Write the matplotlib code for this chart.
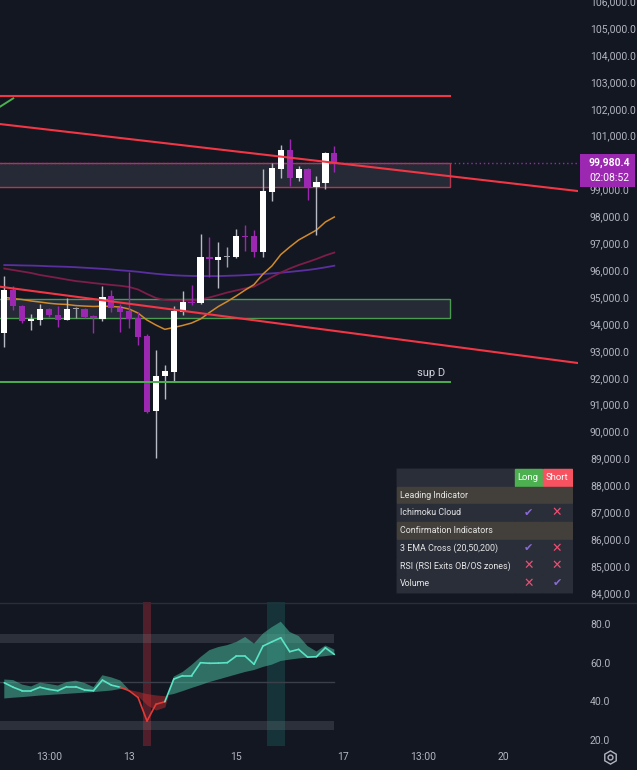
import numpy as np
import matplotlib
matplotlib.use('Agg')
from matplotlib import pyplot as plt
from matplotlib.patches import Rectangle
from matplotlib.lines import Line2D

plt.rcParams['font.family'] = ['Roboto', 'DejaVu Sans']

# 4h candles, values
opens = [93650, 95260, 94670, 94120, 94160, 94570, 94330, 94160, 94545, 94555,
         94285, 94180, 95040, 94600, 94480, 94210, 93550, 90765, 92055, 92225,
         94455, 94815, 94790, 96500, 96390, 96480, 96490, 97270, 97270, 96685,
         98915, 99760, 100465, 99415, 99760, 99100, 99250, 100365]
highs = [95790, 95410, 94700, 94370, 94740, 94600, 94680, 94975, 94640, 94600,
         94320, 95410, 95260, 94730, 95920, 94455, 93625, 93030, 92475, 94670,
         95235, 95450, 97330, 97220, 97035, 96870, 97530, 97680, 97490, 99760,
         99970, 100650, 100865, 99870, 99780, 99500, 100400, 100615]
lows = [93150, 94520, 94050, 93775, 93970, 94270, 93900, 94150, 94230, 94230,
        93650, 94110, 94455, 93710, 93840, 93220, 90700, 89005, 91200, 91855,
        94320, 94700, 94760, 95735, 95325, 96130, 96440, 96720, 96480, 96500,
        98580, 99415, 99140, 99315, 98605, 97305, 99015, 99660]
closes = [95260, 94670, 94120, 94180, 94570, 94320, 94160, 94545, 94580, 94260,
          94210, 95000, 94580, 94445, 94195, 93525, 90740, 92075, 92250, 94480,
          94805, 94780, 96500, 96400, 96500, 96525, 97260, 97245, 96685, 98930,
          99785, 100465, 99415, 99760, 99100, 99265, 100365, 99980.4]
neutral_bars = [8, 25]

ema20 = [94990, 94945, 94910, 94855, 94815, 94770, 94740, 94725, 94685, 94665,
         94650, 94660, 94650, 94630, 94555, 94405, 94145, 93960, 93800, 93870,
         93945, 94035, 94185, 94425, 94650, 94835, 95040, 95260, 95465, 95855,
         96155, 96580, 96860, 97120, 97305, 97490, 97790, 97975]
ema50 = [96060, 96005, 95950, 95895, 95820, 95765, 95710, 95650, 95595, 95560,
         95520, 95485, 95450, 95420, 95375, 95280, 95115, 94965, 94890, 94880,
         94880, 94880, 94910, 94985, 95075, 95170, 95245, 95320, 95390, 95560,
         95745, 95910, 96060, 96190, 96300, 96415, 96545, 96655]
ema200 = [96190, 96185, 96175, 96170, 96160, 96145, 96135, 96125, 96110, 96090,
          96070, 96050, 96025, 95995, 95970, 95940, 95900, 95865, 95835, 95810,
          95795, 95785, 95780, 95780, 95780, 95790, 95800, 95815, 95835, 95855,
          95880, 95905, 95935, 95970, 96005, 96050, 96105, 96165]

rsi = [49.6, 47.3, 45.5, 45.5, 47.3, 46.2, 45.5, 47.6, 47.6, 45.9,
       45.5, 51.0, 48.4, 47.3, 45.5, 42.0, 29.8, 38.5, 39.8, 51.5,
       53.3, 53.3, 60.0, 59.7, 59.8, 60.0, 63.4, 63.4, 59.2, 68.6,
       70.8, 72.9, 65.7, 66.9, 62.9, 63.1, 67.7, 64.3]
rsi_ma = [41.5, 41.9, 42.2, 42.6, 43.0, 43.3, 43.6, 43.9, 44.2, 44.5,
          44.8, 45.2, 45.6, 46.4, 46.1, 45.1, 44.0, 43.3, 42.9, 43.8,
          45.3, 46.9, 48.4, 50.0, 51.3, 52.6, 53.9, 55.2, 56.2, 57.8,
          59.0, 60.9, 61.6, 62.2, 62.6, 62.9, 63.4, 64.0]
rsi_band = [51.3, 51.0, 48.7, 47.7, 49.7, 49.0, 48.2, 50.0, 50.7, 49.5,
            47.4, 53.5, 52.4, 50.8, 46.0, 42.7, 38.1, 35.5, 37.1, 52.8,
            55.2, 58.8, 62.9, 66.5, 68.1, 69.1, 70.7, 73.3, 69.9, 75.1,
            78.4, 81.2, 75.9, 73.8, 68.6, 65.8, 68.9, 66.8]

# drawings
res_line = 102460
zone_hi = (99080, 99965)
zone_lo = (94205, 94925)
sup_d = 91855
zone_end = 50
trend_a = [(0, 101412), (60, 99106)]
trend_b = [(0, 95364), (60, 92737)]
trend_g = [(-1, 101966), (1, 102385)]

price_ticks = [84000, 85000, 86000, 87000, 88000, 89000, 90000, 91000, 92000,
               93000, 94000, 95000, 96000, 97000, 98000, 99000, 101000, 102000,
               103000, 104000, 105000, 106000]
rsi_ticks = [20, 40, 60, 80]
time_ticks = [5, 14, 26, 38, 47, 56]
time_labels = ['13:00', '13', '15', '17', '13:00', '20']

table_rows = ['Leading Indicator', 'Ichimoku Cloud', 'Confirmation Indicators',
              '3 EMA Cross (20,50,200)', 'RSI (RSI Exits OB/OS zones)', 'Volume']
long_flags = [None, True, None, True, False, False]
short_flags = [None, False, None, False, False, True]

BG = '#131722'
TXT = '#b2b5be'
W, H = 637., 770.
def fx(px): return px / W
def fy(py): return 1 - py / H

fig = plt.figure(figsize=(6.37, 7.70), dpi=100, facecolor=BG)
ax = fig.add_axes([0, fy(602), fx(578), fy(0) - fy(602)])
ax_r = fig.add_axes([0, fy(746), fx(578), fy(602) - fy(746)], sharex=ax)
for a in (ax, ax_r):
    a.set_facecolor(BG)
    for s in a.spines.values():
        s.set_visible(False)

bars = np.arange(len(opens))
x_left, x_right = -0.48, 64.32
ax.set_xlim(x_left, x_right)
ax.set_ylim(83666, 106041)
ax_r.set_ylim(16.9, 91.4)

# zones and levels
ax.add_patch(Rectangle((-1, zone_hi[0]), zone_end + 1, zone_hi[1] - zone_hi[0],
                       facecolor='#262a36', edgecolor='#b2384f', lw=1, zorder=1))
ax.add_patch(Rectangle((-1, zone_lo[0]), zone_end + 1, zone_lo[1] - zone_lo[0],
                       facecolor='#262a36', edgecolor='#4a9a50', lw=1, zorder=1))
ax.plot([-1, zone_end], [sup_d, sup_d], color='#4caf50', lw=1.4, zorder=5)
ax.text(49.4, sup_d + 130, 'sup D', color='#d1d4dc', fontsize=8,
        ha='right', va='bottom', zorder=6)
ax.plot([-1, zone_end], [res_line, res_line], color='#f23645', lw=1.5, zorder=5)

# moving averages
ax.plot(bars, ema200, color='#5a2fa0', lw=1.3, zorder=2)
ax.plot(bars, ema50, color='#7d1d48', lw=1.3, zorder=2)
ax.plot(bars, ema20, color='#d08a2c', lw=1.1, zorder=2)

# candles
o, h, l, c = map(np.array, (opens, highs, lows, closes))
up = c >= o
body_col = np.where(up, '#ffffff', '#9c27b0').astype(object)
wick_col = np.where(up, '#b8bbc4', '#9c27b0').astype(object)
for i in neutral_bars:
    body_col[i] = wick_col[i] = '#a0a3ab'
ax.vlines(bars, l, h, colors=list(wick_col), lw=1, zorder=3)
ax.bar(bars, np.maximum(np.abs(c - o), 40), bottom=np.minimum(o, c), width=0.7,
       color=list(body_col), linewidth=0, zorder=4)

# trend lines
for (x0, y0), (x1, y1) in (trend_a, trend_b):
    k = (y1 - y0) / (x1 - x0)
    xs = np.array([-2, 70])
    ax.plot(xs, y0 + k * (xs - x0), color='#f23645', lw=1.5, zorder=5)
ax.plot([p[0] for p in trend_g], [p[1] for p in trend_g], color='#4caf50', lw=1.4, zorder=5)

# last price line + label
last = closes[-1]
ax.axhline(last, color='#9c27b0', ls=(0, (1, 2)), lw=1, zorder=2)
tr = ax.get_yaxis_transform()
ax.add_patch(Rectangle((1.0035, last - 890), 0.095, 1225, transform=tr,
                       facecolor='#9c27b0', edgecolor='none', clip_on=False, zorder=10))
ax.text(1.019, last, f'{last:,.1f}', transform=tr, color='white', fontsize=7.5,
        fontweight='bold', va='center', ha='left', zorder=11)
ax.text(1.019, last - 560, '02:08:52', transform=tr, color='white', fontsize=7.5,
        va='center', ha='left', zorder=11)

# price axis
ax.yaxis.tick_right()
ax.set_yticks(price_ticks)
ax.set_yticklabels([f'{v:,.1f}' for v in price_ticks])
ax.tick_params(axis='y', length=0, pad=8.6, labelsize=7.5, labelcolor=TXT)
ax.tick_params(axis='x', bottom=False, labelbottom=False)

# RSI pane
ax_r.axvspan(15.5, 16.5, color='#f23645', alpha=0.28, lw=0, zorder=0)
ax_r.axvspan(29.5, 31.5, color='#26a69a', alpha=0.2, lw=0, zorder=0)
ax_r.fill_between([-1, bars[-1]], 70, 75, color='#787b86', alpha=0.25, lw=0, zorder=1)
ax_r.fill_between([-1, bars[-1]], 25, 30, color='#787b86', alpha=0.25, lw=0, zorder=1)
ax_r.plot([-1, bars[-1]], [50, 50], color='#3b3f4a', lw=1, zorder=1)
rb, rm, rv = np.array(rsi_band), np.array(rsi_ma), np.array(rsi)
ax_r.fill_between(bars, rb, rm, where=rb >= rm, interpolate=True,
                  color='#48b89a', alpha=0.55, lw=0, zorder=2)
ax_r.fill_between(bars, rb, rm, where=rb < rm, interpolate=True,
                  color='#d32f2f', alpha=0.45, lw=0, zorder=2)
for i in range(len(bars) - 1):
    col = '#e53935' if rv[i + 1] < rm[i + 1] else '#5ae4c6'
    ax_r.plot(bars[i:i + 2], rv[i:i + 2], color=col, lw=1.2, zorder=3,
              solid_capstyle='round')

ax_r.yaxis.tick_right()
ax_r.set_yticks(rsi_ticks)
ax_r.set_yticklabels([f'{v:.1f}' for v in rsi_ticks])
ax_r.tick_params(axis='y', length=0, pad=8.6, labelsize=7.5, labelcolor=TXT)
ax_r.set_xticks(time_ticks)
ax_r.set_xticklabels(time_labels)
ax_r.tick_params(axis='x', length=0, pad=4.5, labelsize=7.5, labelcolor=TXT)

# pane separator and settings icon
fig.add_artist(Line2D([0, 1], [fy(602.5)] * 2, transform=fig.transFigure,
                      color='#2a2e39', lw=1))
fig.add_artist(Line2D([fx(610)], [fy(757)], transform=fig.transFigure, marker='h',
                      markersize=9.5, mfc='none', mec=TXT, mew=1, ls='none'))
fig.add_artist(Line2D([fx(610)], [fy(757)], transform=fig.transFigure, marker='o',
                      markersize=3.5, mfc='none', mec=TXT, mew=1, ls='none'))

# signal table
tx = fig.add_axes([fx(396), fy(594), fx(573) - fx(396), fy(468) - fy(594)])
tx.set_xlim(396, 573)
tx.set_ylim(594, 468)
tx.axis('off')
tx.add_patch(Rectangle((396, 468), 177, 126, color='#1c1f29'))
cells = [(397, 117), (515, 26.5), (542.5, 29)]
tx.add_patch(Rectangle((397, 469), 117, 16.5, color='#2a2e39'))
tx.add_patch(Rectangle((515, 469), 26.5, 16.5, color='#4caf50'))
tx.add_patch(Rectangle((542.5, 469), 29, 16.5, color='#f7525f'))
tx.text(528.2, 477.5, 'Long', color='white', fontsize=6.8, ha='center', va='center')
tx.text(557, 477.5, 'Short', color='white', fontsize=6.8, ha='center', va='center')
row_h, pitch = 16.7, 17.67
for k, name in enumerate(table_rows):
    y0 = 486.7 + k * pitch
    section = long_flags[k] is None
    bg = '#43403c' if section else '#2a2e39'
    for cx, cw in cells:
        tx.add_patch(Rectangle((cx, y0), cw, row_h, color=bg))
    tx.text(400, y0 + row_h / 2, name, color='#e6e6e6', fontsize=6.4,
            ha='left', va='center')
    if section:
        continue
    for flag, cx in ((long_flags[k], 528.2), (short_flags[k], 557)):
        if flag:
            tx.text(cx, y0 + row_h / 2, '\u2714', color='#8c6ad8', fontsize=8,
                    ha='center', va='center')
        else:
            tx.text(cx, y0 + row_h / 2, '\u2715', color='#f04e73', fontsize=9,
                    ha='center', va='center')

fig.savefig('out.png', dpi=100, facecolor=BG)
